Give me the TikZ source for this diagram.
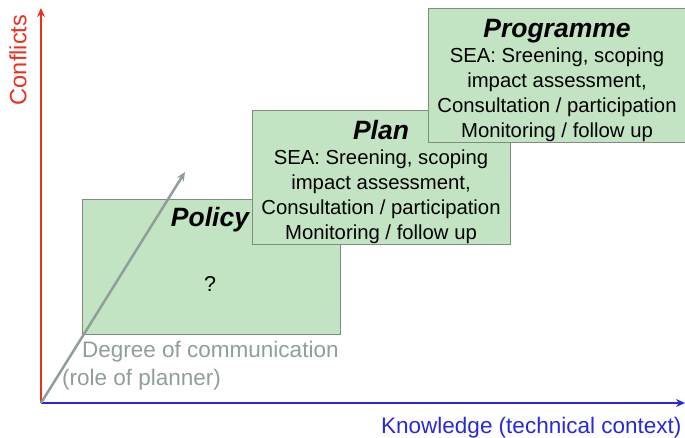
\documentclass[tikz,border=0pt]{standalone}
\usepackage{fontspec}
\setmainfont{Liberation Sans}
\usetikzlibrary{arrows.meta}
\definecolor{boxgreen}{RGB}{194,228,195}
\definecolor{boxline}{RGB}{128,140,130}
\definecolor{axisred}{RGB}{232,50,30}
\definecolor{axisblue}{RGB}{40,40,220}
\definecolor{commgray}{RGB}{143,158,152}
\newcommand{\stagetitle}[1]{\rule{0pt}{29pt}{\fontsize{26.5}{25}\selectfont\bfseries\itshape #1}\\}

\begin{document}
\begin{tikzpicture}[x=1pt, y=-1pt, >={Stealth[length=9pt,width=8pt]},
  stage/.style = {draw=boxline, fill=boxgreen, thick, rectangle, inner sep=0pt,
                  align=center, font=\fontsize{20.3}{25}\selectfont},
  title/.style = {font=\fontsize{26.5}{25}\selectfont\bfseries\itshape},
  lab/.style = {inner sep=0pt, font=\fontsize{22.5}{24}\selectfont}]
	\useasboundingbox (0,0) rectangle (685,438);
	\coordinate (o) at (41,403);
	% stages
	\node[stage, minimum width=258pt, minimum height=135pt] (policy) at (211,266.5) {};
	\node[inner sep=0pt, title] (poltitle) at (210,220) {Policy};
	\node[inner sep=0pt, font=\fontsize{21.5}{25}\selectfont] (q) at (210,284) {?};
	\node[stage, minimum width=258pt, minimum height=133pt] (plan) at (381,177.5)
		{\stagetitle{Plan}SEA: Sreening, scoping\\impact assessment,\\Consultation / participation\\Monitoring / follow up};
	\node[stage, minimum width=258pt, minimum height=134pt] (prog) at (557,75)
		{\stagetitle{Programme}SEA: Sreening, scoping\\impact assessment,\\Consultation / participation\\Monitoring / follow up};
	% axes
	\coordinate (ytop) at (41,8);
	\coordinate (xend) at (685,403);
	\coordinate (ctop) at (185,172);
	\draw[->, axisred, line width=1.8pt] (o) -- (ytop);
	\draw[->, axisblue, line width=1.8pt] (o) -- (xend);
	\draw[->, commgray, line width=2.5pt] (o) -- (ctop);
	% labels
	\node[inner sep=0pt, font=\fontsize{23.5}{24}\selectfont, axisred, rotate=90] (conf) at (18,60) {Conflicts};
	\node[lab, commgray, anchor=west] (deg) at (82,352) {Degree of communication};
	\node[lab, commgray, anchor=west] (role) at (62,380) {(role of planner)};
	\node[lab, axisblue, anchor=west] (know) at (381,428) {Knowledge (technical context)};
\end{tikzpicture}
\end{document}
